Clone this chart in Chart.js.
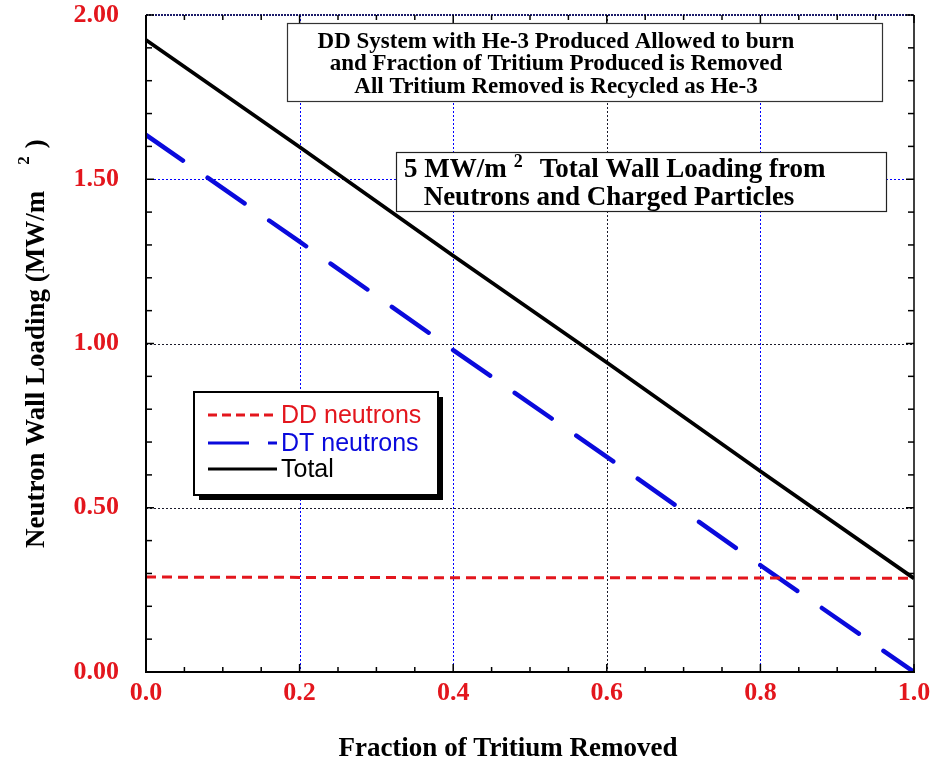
<!DOCTYPE html>
<html>
<head>
<meta charset="utf-8">
<script src="https://cdn.jsdelivr.net/npm/chart.js@4.4.1/dist/chart.umd.min.js"></script>
<style>
  html, body { margin: 0; padding: 0; background: #fff; }
  canvas { display: block; }
</style>
</head>
<body>
<canvas id="c" width="935" height="763"></canvas>
<script>
// Fraction of tritium removed (x) and neutron wall loading in MW/m^2 (y)
const fraction     = [0.0, 0.2, 0.4, 0.6, 0.8, 1.0];
const ddNeutrons   = [0.289, 0.288, 0.287, 0.287, 0.286, 0.285];
const dtNeutrons   = [1.635, 1.310, 0.980, 0.655, 0.325, 0.000];
const totalLoading = [1.924, 1.598, 1.267, 0.942, 0.611, 0.285];

const xTickLabels = ['0.0', '0.2', '0.4', '0.6', '0.8', '1.0'];
const yTickLabels = ['0.00', '0.50', '1.00', '1.50', '2.00'];
const seriesNames = ['DD neutrons', 'DT neutrons', 'Total'];

const noteLines = [
  'DD System with He-3 Produced Allowed to burn',
  'and Fraction of Tritium Produced is Removed',
  'All Tritium Removed is Recycled as He-3'
];
const loadingLine1 = ['5 MW/m', '2', 'Total Wall Loading from'];
const loadingLine2 = 'Neutrons and Charged Particles';
const xTitle = 'Fraction of Tritium Removed';
const yTitle = ['Neutron Wall Loading (MW/m', '2', ')'];

const SERIF = '"Liberation Serif", "Times New Roman", Times, serif';
const SANS = '"Liberation Sans", Arial, Helvetica, sans-serif';
const RED = '#e3161d';
const BLUE = '#0a0adc';
const GRID_BLUE = '#0000ff';
const GRID_DARK = '#1a1a2a';

const pts = (ys) => fraction.map((f, i) => ({ x: f, y: ys[i] }));

function seg(ctx, x1, y1, x2, y2) {
  ctx.beginPath(); ctx.moveTo(x1, y1); ctx.lineTo(x2, y2); ctx.stroke();
}

// dotted gridlines at the inner major ticks
const grid = {
  id: 'dottedGrid',
  beforeDatasetsDraw(chart) {
    const { ctx, chartArea: a, scales: { x, y } } = chart;
    ctx.save();
    ctx.lineWidth = 1;
    ctx.setLineDash([2, 2]);
    x.ticks.forEach((t, i) => {
      if (i === 0 || i === x.ticks.length - 1) return;
      const px = Math.round(x.getPixelForValue(t.value)) + 0.5;
      ctx.strokeStyle = i === 3 ? GRID_DARK : GRID_BLUE;
      seg(ctx, px, a.top, px, a.bottom);
    });
    y.ticks.forEach((t, i) => {
      if (i === 0 || i === y.ticks.length - 1) return;
      const py = Math.round(y.getPixelForValue(t.value)) + 0.5;
      ctx.strokeStyle = i === 3 ? GRID_BLUE : GRID_DARK;
      seg(ctx, a.left, py, a.right, py);
    });
    ctx.restore();
  }
};

const decor = {
  id: 'decor',
  afterDraw(chart) {
    const { ctx, chartArea: a, scales: { x, y } } = chart;
    ctx.save();

    // plot frame
    ctx.strokeStyle = '#000';
    ctx.lineWidth = 2;
    seg(ctx, a.left, a.top, a.left, a.bottom + 1);
    seg(ctx, a.left - 1, a.bottom, a.right + 1, a.bottom);
    ctx.lineWidth = 1.5;
    seg(ctx, a.right, a.top, a.right, a.bottom);
    ctx.setLineDash([2, 1]);
    ctx.strokeStyle = '#1c1c6a';
    ctx.lineWidth = 2;
    seg(ctx, a.left, a.top, a.right, a.top);
    ctx.setLineDash([]);

    // inward major and minor ticks on all four sides
    ctx.strokeStyle = '#000';
    ctx.lineWidth = 1.5;
    for (let i = 0; i <= 20; i++) {
      const px = x.getPixelForValue(i / 20);
      const len = i % 4 === 0 ? 8 : 5;
      seg(ctx, px, a.bottom, px, a.bottom - len);
      seg(ctx, px, a.top, px, a.top + len);
    }
    for (let i = 0; i <= 20; i++) {
      const py = y.getPixelForValue(i / 10);
      const len = i % 5 === 0 ? 8 : 6;
      seg(ctx, a.left, py, a.left + len, py);
      seg(ctx, a.right, py, a.right - len, py);
    }

    // axis titles
    ctx.fillStyle = '#000';
    ctx.textBaseline = 'alphabetic';
    ctx.font = 'bold 27px ' + SERIF;
    ctx.textAlign = 'center';
    ctx.fillText(xTitle, 508, 756);

    ctx.save();
    ctx.translate(44, 548);
    ctx.rotate(-Math.PI / 2);
    ctx.textAlign = 'left';
    ctx.font = 'bold 27px ' + SERIF;
    ctx.fillText(yTitle[0], 0, 0);
    let off = ctx.measureText(yTitle[0]).width + 26;
    ctx.font = 'bold 17px ' + SERIF;
    ctx.fillText(yTitle[1], off, -15);
    off += ctx.measureText(yTitle[1]).width + 8;
    ctx.font = 'bold 27px ' + SERIF;
    ctx.fillText(yTitle[2], off, 0);
    ctx.restore();

    // note box at the top
    ctx.fillStyle = '#fff';
    ctx.fillRect(287, 23, 595, 78);
    ctx.strokeStyle = '#333';
    ctx.lineWidth = 1.2;
    ctx.strokeRect(287.5, 23.5, 595, 78);
    ctx.fillStyle = '#000';
    ctx.font = 'bold 23px ' + SERIF;
    ctx.textAlign = 'center';
    const noteBase = [48, 70, 93];
    noteLines.forEach((t, i) => ctx.fillText(t, 556, noteBase[i]));

    // wall loading box
    ctx.fillStyle = '#fff';
    ctx.fillRect(396, 152, 490, 59);
    ctx.strokeStyle = '#222';
    ctx.lineWidth = 1.2;
    ctx.strokeRect(396.5, 152.5, 490, 59);
    ctx.fillStyle = '#000';
    ctx.textAlign = 'left';
    ctx.font = 'bold 27px ' + SERIF;
    let lx = 404;
    ctx.fillText(loadingLine1[0], lx, 177);
    lx += ctx.measureText(loadingLine1[0]).width + 7;
    ctx.font = 'bold 18px ' + SERIF;
    ctx.fillText(loadingLine1[1], lx, 167);
    lx += ctx.measureText(loadingLine1[1]).width + 17;
    ctx.font = 'bold 27px ' + SERIF;
    ctx.fillText(loadingLine1[2], lx, 177);
    ctx.textAlign = 'center';
    ctx.fillText(loadingLine2, 609, 205);

    // legend with drop shadow
    const lb = { x: 194, y: 392, w: 244, h: 103 };
    ctx.fillStyle = '#000';
    ctx.fillRect(lb.x + 5, lb.y + 5, lb.w, lb.h);
    ctx.fillStyle = '#fff';
    ctx.fillRect(lb.x, lb.y, lb.w, lb.h);
    ctx.strokeStyle = '#000';
    ctx.lineWidth = 2;
    ctx.strokeRect(lb.x, lb.y, lb.w, lb.h);
    const rows = [415, 443, 469];
    ctx.font = '25px ' + SANS;
    ctx.textAlign = 'left';
    ctx.textBaseline = 'middle';
    chart.data.datasets.forEach((ds, i) => {
      ctx.save();
      ctx.strokeStyle = ds.borderColor;
      ctx.lineWidth = Math.min(ds.borderWidth, 3);
      ctx.setLineDash(ds.legendDash || []);
      seg(ctx, 208, rows[i], 277, rows[i]);
      ctx.restore();
      ctx.fillStyle = ds.borderColor;
      ctx.fillText(ds.label, 281, rows[i] + 1);
    });

    ctx.restore();
  }
};

new Chart(document.getElementById('c'), {
  type: 'line',
  data: {
    datasets: [
      {
        label: seriesNames[0], data: pts(ddNeutrons),
        borderColor: RED, borderWidth: 3, borderDash: [10, 6], legendDash: [9, 5]
      },
      {
        label: seriesNames[1], data: pts(dtNeutrons),
        borderColor: BLUE, borderWidth: 4.5, borderDash: [45, 30], borderCapStyle: 'round',
        legendDash: [41, 19]
      },
      {
        label: seriesNames[2], data: pts(totalLoading),
        borderColor: '#000', borderWidth: 3.8
      }
    ]
  },
  options: {
    responsive: false,
    devicePixelRatio: 1,
    animation: false,
    events: [],
    layout: { autoPadding: false, padding: { left: 0, right: 21, top: 15, bottom: 0 } },
    elements: { point: { radius: 0 }, line: { tension: 0 } },
    plugins: { legend: { display: false }, tooltip: { enabled: false } },
    scales: {
      x: {
        type: 'linear', min: 0, max: 1,
        afterFit: (s) => { s.height = 91; s.paddingLeft = 0; s.paddingRight = 0; },
        border: { display: false },
        grid: { display: false, drawTicks: false },
        ticks: {
          stepSize: 0.2, padding: 8, color: RED, maxRotation: 0,
          font: { family: SERIF, weight: 'bold', size: 26, lineHeight: 1 },
          callback: (v, i) => xTickLabels[i]
        }
      },
      y: {
        type: 'linear', min: 0, max: 2,
        afterFit: (s) => { s.width = 146; s.paddingTop = 0; s.paddingBottom = 0; },
        border: { display: false },
        grid: { display: false, drawTicks: false },
        ticks: {
          stepSize: 0.5, padding: 27, color: RED,
          font: { family: SERIF, weight: 'bold', size: 26, lineHeight: 1 },
          callback: (v, i) => yTickLabels[i]
        }
      }
    }
  },
  plugins: [grid, decor]
});
</script>
</body>
</html>
